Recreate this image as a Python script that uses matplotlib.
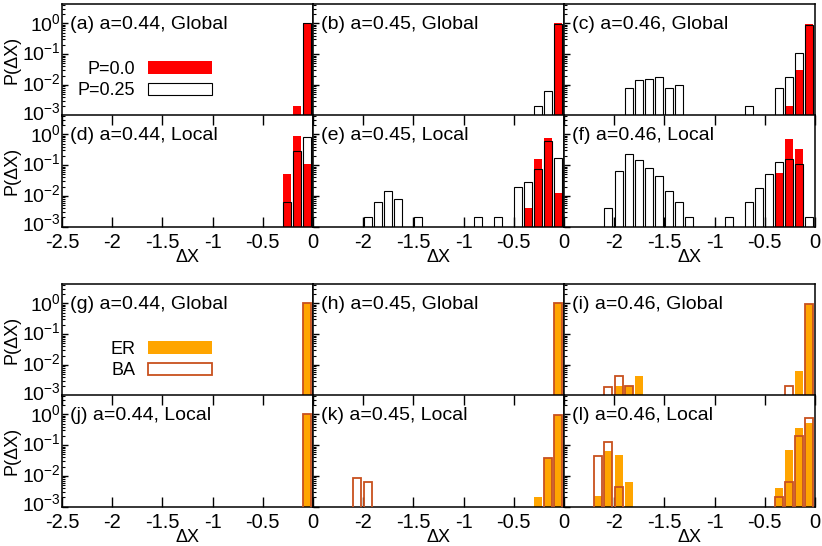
import numpy as np
import matplotlib
matplotlib.use('Agg')
import matplotlib.pyplot as plt
import matplotlib.transforms as mtransforms
from matplotlib.ticker import LogLocator, MultipleLocator, FuncFormatter, NullFormatter

plt.rcParams['font.family'] = ['Liberation Sans', 'DejaVu Sans']
plt.rcParams['font.size'] = 13
plt.rcParams['axes.linewidth'] = 1.1

# ---- data: bin centres (dX) and P(dX) per panel ----
# top block: P=0.0 (filled red) and P=0.25 (hollow black)
a_p0_x = [-0.15, -0.05]
a_p0_y = [0.002, 0.998]
a_p25_x = [-0.05]
a_p25_y = [1.0]

b_p0_x = [-0.05]
b_p0_y = [1.0]
b_p25_x = [-0.25, -0.15, -0.05]
b_p25_y = [0.002, 0.0061, 0.99]

c_p0_x = [-0.25, -0.15, -0.05]
c_p0_y = [0.002, 0.030, 0.97]
c_p25_x = [-1.85, -1.75, -1.65, -1.55, -1.45, -1.35, -0.65, -0.35, -0.25, -0.15, -0.05]
c_p25_y = [0.008, 0.014, 0.016, 0.018, 0.008, 0.0098, 0.002, 0.008, 0.018, 0.112, 0.88]

d_p0_x = [-0.25, -0.15, -0.05]
d_p0_y = [0.052, 0.86, 0.11]
d_p25_x = [-0.25, -0.15, -0.05]
d_p25_y = [0.0063, 0.28, 0.81]

e_p0_x = [-0.35, -0.25, -0.15, -0.05]
e_p0_y = [0.0041, 0.155, 0.79, 0.0126]
e_p25_x = [-1.95, -1.85, -1.75, -1.65, -1.45, -0.85, -0.65, -0.45, -0.35, -0.25, -0.15, -0.05]
e_p25_y = [0.002, 0.0063, 0.014, 0.008, 0.002, 0.002, 0.002, 0.020, 0.028, 0.077, 0.62, 0.176]

f_p0_x = [-0.35, -0.25, -0.15]
f_p0_y = [0.054, 0.70, 0.33]
f_p25_x = [-2.05, -1.95, -1.85, -1.75, -1.65, -1.55, -1.45, -1.35, -1.25,
           -0.85, -0.65, -0.55, -0.45, -0.35, -0.25, -0.15, -0.05]
f_p25_y = [0.0041, 0.065, 0.226, 0.148, 0.083, 0.044, 0.0143, 0.0063, 0.002,
           0.002, 0.0063, 0.0184, 0.050, 0.127, 0.155, 0.107, 0.002]

# bottom block: ER (filled orange) and BA (hollow dark orange)
g_er_x = [-0.05]
g_er_y = [1.0]
g_ba_x = [-0.05]
g_ba_y = [1.0]

h_er_x = [-0.05]
h_er_y = [1.0]
h_ba_x = [-0.05]
h_ba_y = [1.0]

i_er_x = [-1.95, -1.85, -1.75, -0.15, -0.05]
i_er_y = [0.002, 0.002, 0.0043, 0.0062, 0.98]
i_ba_x = [-2.05, -1.95, -1.85, -0.25, -0.05]
i_ba_y = [0.0019, 0.0043, 0.002, 0.002, 0.99]

j_er_x = [-0.05]
j_er_y = [1.0]
j_ba_x = [-0.05]
j_ba_y = [1.0]

k_er_x = [-0.25, -0.15, -0.05]
k_er_y = [0.002, 0.039, 0.96]
k_ba_x = [-2.05, -1.95, -0.15, -0.05]
k_ba_y = [0.0082, 0.0063, 0.039, 0.97]

l_er_x = [-2.15, -2.05, -1.95, -1.85, -0.35, -0.25, -0.15, -0.05]
l_er_y = [0.0022, 0.065, 0.048, 0.0062, 0.0041, 0.069, 0.37, 0.53]
l_ba_x = [-2.15, -2.05, -1.95, -0.35, -0.25, -0.15, -0.05]
l_ba_y = [0.044, 0.126, 0.0043, 0.0021, 0.0062, 0.20, 0.74]

titles = ['(a) a=0.44, Global', '(b) a=0.45, Global', '(c) a=0.46, Global',
          '(d) a=0.44, Local', '(e) a=0.45, Local', '(f) a=0.46, Local',
          '(g) a=0.44, Global', '(h) a=0.45, Global', '(i) a=0.46, Global',
          '(j) a=0.44, Local', '(k) a=0.45, Local', '(l) a=0.46, Local']

RED = '#ff0000'
ORANGE = '#ffa500'
BA_EDGE = '#c8501e'

panels = [
    (a_p0_x, a_p0_y, a_p25_x, a_p25_y), (b_p0_x, b_p0_y, b_p25_x, b_p25_y),
    (c_p0_x, c_p0_y, c_p25_x, c_p25_y), (d_p0_x, d_p0_y, d_p25_x, d_p25_y),
    (e_p0_x, e_p0_y, e_p25_x, e_p25_y), (f_p0_x, f_p0_y, f_p25_x, f_p25_y),
    (g_er_x, g_er_y, g_ba_x, g_ba_y), (h_er_x, h_er_y, h_ba_x, h_ba_y),
    (i_er_x, i_er_y, i_ba_x, i_ba_y), (j_er_x, j_er_y, j_ba_x, j_ba_y),
    (k_er_x, k_er_y, k_ba_x, k_ba_y), (l_er_x, l_er_y, l_ba_x, l_ba_y),
]

W, H = 822, 546
fig = plt.figure(figsize=(W / 100, H / 100), dpi=100)

col_left = [62, 313, 564]
col_w = 251
row_top = [4, 115, 284, 395]
row_h = 111.5


def x_formatter(first_col):
    def f(v, p):
        if abs(v) < 1e-9:
            return '0'
        if not first_col and v < -2.49:
            return ''
        return '{:g}'.format(v)
    return FuncFormatter(f)


for n, (fx, fy, hx, hy) in enumerate(panels):
    r, c = divmod(n, 3)
    ax = fig.add_axes([col_left[c] / W, 1 - (row_top[r] + row_h) / H,
                       col_w / W, row_h / H])
    bottom_block = r >= 2
    fill_col = ORANGE if bottom_block else RED
    edge_col = BA_EDGE if bottom_block else 'black'
    edge_lw = 1.3 if bottom_block else 0.8

    b1 = ax.bar(np.array(fx) - 0.047, fy, width=0.08, align='edge',
                color=fill_col, linewidth=0, zorder=2)
    b2 = ax.bar(np.array(hx) - 0.047, hy, width=0.08, align='edge',
                facecolor='none', edgecolor=edge_col, linewidth=edge_lw, zorder=3)

    ax.set_yscale('log')
    ax.set_ylim(1e-3, 4.3)
    ax.set_xlim(-2.5, 0)
    ax.yaxis.set_major_locator(LogLocator(base=10, numticks=10))
    ax.yaxis.set_minor_locator(LogLocator(base=10, subs=np.arange(2, 10), numticks=10))
    ax.yaxis.set_minor_formatter(NullFormatter())
    ax.tick_params(axis='y', which='major', direction='in', length=4.5, width=1,
                   left=True, right=False, pad=1, labelsize=14)
    ax.tick_params(axis='y', which='minor', direction='in', length=2.5, width=0.8,
                   left=True, right=False)
    if c > 0:
        ax.tick_params(axis='y', labelleft=False)
    else:
        ax.set_ylabel('P(ΔX)', fontsize=13)
        ax.yaxis.set_label_coords(-0.165, 0.5)

    ax.xaxis.set_major_locator(MultipleLocator(0.5))
    ax.xaxis.set_minor_locator(plt.NullLocator())
    if r in (0, 2):
        ax.tick_params(axis='x', which='both', bottom=False, top=False, labelbottom=False)
    else:
        ax.tick_params(axis='x', which='major', direction='in', length=7, width=1,
                       bottom=True, top=True, pad=5, labelsize=14.5)
        ax.xaxis.set_major_formatter(x_formatter(c == 0))
        ax.set_xlabel('ΔX', fontsize=13)
        ax.xaxis.set_label_coords(0.5, -0.2)

    # y tick labels sit a little above their ticks, like in the original
    if c == 0:
        locs = ax.yaxis.get_majorticklocs()
        for loc, tick in zip(locs, ax.yaxis.get_major_ticks(len(locs))):
            dy = 4.5 if loc < 0.005 else (1.0 if loc > 0.5 else 3.0)
            lift = mtransforms.ScaledTranslation(0, dy / 100, fig.dpi_scale_trans)
            tick.label1.set_transform(tick.label1.get_transform() + lift)

    ax.text(0.032, 0.815, titles[n], transform=ax.transAxes, ha='left', va='center',
            fontsize=14)

    if n == 0 or n == 6:
        labs = ['P=0.0', 'P=0.25'] if n == 0 else ['ER', 'BA']
        ax.legend([b1, b2], labs, loc='upper right', bbox_to_anchor=(0.598, 0.49),
                  markerfirst=False, frameon=False, fontsize=13,
                  handlelength=3.55, handleheight=0.66,
                  handletextpad=0.72, labelspacing=0.25, borderpad=0, borderaxespad=0)

fig.savefig('out.png', dpi=100)
